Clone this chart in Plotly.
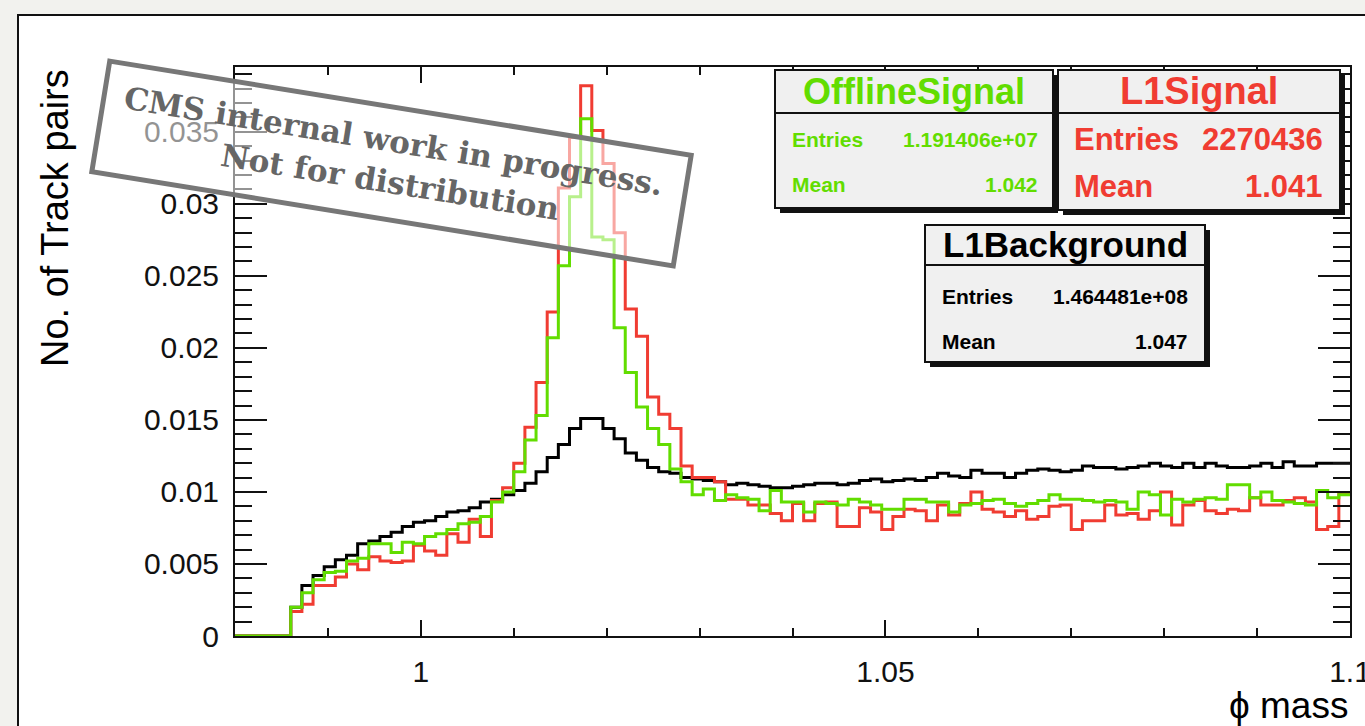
import numpy as np
import plotly.graph_objects as go

# ---- binning of the phi-mass histograms ----
X_LO, X_HI, N_BINS = 0.98, 1.1, 100
edges = np.linspace(X_LO, X_HI, N_BINS + 1)

# ---- bin contents (normalised) ----
l1_background = [
    0, 0, 0, 0, 0,
    0.0020, 0.0035, 0.0042, 0.0048, 0.0053,
    0.0056, 0.0064, 0.0066, 0.0069, 0.0072,
    0.0076, 0.0079, 0.0080, 0.0083, 0.0086,
    0.0087, 0.0089, 0.0093, 0.0095, 0.0098,
    0.0101, 0.0106, 0.0114, 0.0124, 0.0133,
    0.0144, 0.0151, 0.0151, 0.0144, 0.0137,
    0.0127, 0.0122, 0.0117, 0.0114, 0.0113,
    0.0110, 0.0109, 0.0108, 0.0107, 0.0105,
    0.0106, 0.0105, 0.0104, 0.0103, 0.0103,
    0.0104, 0.0105, 0.0106, 0.0106, 0.0105,
    0.0106, 0.0108, 0.0109, 0.0107, 0.0108,
    0.0109, 0.0108, 0.0110, 0.0113, 0.0111,
    0.0110, 0.0115, 0.0113, 0.0113, 0.0110,
    0.0113, 0.0115, 0.0116, 0.0115, 0.0114,
    0.0115, 0.0118, 0.0117, 0.0117, 0.0116,
    0.0117, 0.0118, 0.0120, 0.0118, 0.0117,
    0.0120, 0.0117, 0.0120, 0.0118, 0.0117,
    0.0117, 0.0118, 0.0120, 0.0117, 0.0121,
    0.0118, 0.0118, 0.0120, 0.0120, 0.0120,
]

offline_signal = [
    0, 0, 0, 0, 0,
    0.0020, 0.0030, 0.0039, 0.0044, 0.0045,
    0.0052, 0.0054, 0.0064, 0.0064, 0.0058,
    0.0065, 0.0064, 0.0069, 0.0071, 0.0074,
    0.0078, 0.0079, 0.0083, 0.0093, 0.0100,
    0.0114, 0.0136, 0.0153, 0.0207, 0.0257,
    0.0305, 0.0359, 0.0277, 0.0275, 0.0214,
    0.0183, 0.0159, 0.0144, 0.0133, 0.0116,
    0.0107, 0.0098, 0.0102, 0.0094, 0.0098,
    0.0096, 0.0095, 0.0087, 0.0101, 0.0093,
    0.0093, 0.0086, 0.0093, 0.0092, 0.0091,
    0.0095, 0.0093, 0.0091, 0.0088, 0.0088,
    0.0095, 0.0095, 0.0093, 0.0093, 0.0086,
    0.0091, 0.0092, 0.0094, 0.0095, 0.0092,
    0.0090, 0.0092, 0.0094, 0.0098, 0.0095,
    0.0095, 0.0094, 0.0093, 0.0094, 0.0093,
    0.0088, 0.0100, 0.0098, 0.0084, 0.0095,
    0.0093, 0.0095, 0.0096, 0.0095, 0.0105,
    0.0105, 0.0096, 0.0100, 0.0094, 0.0093,
    0.0092, 0.0091, 0.0101, 0.0096, 0.0098,
]

l1_signal = [
    0, 0, 0, 0, 0,
    0.0017, 0.0022, 0.0035, 0.0035, 0.0041,
    0.0050, 0.0046, 0.0055, 0.0052, 0.0051,
    0.0052, 0.0063, 0.0059, 0.0056, 0.0071,
    0.0065, 0.0081, 0.0069, 0.0094, 0.0103,
    0.0120, 0.0145, 0.0176, 0.0225, 0.0311,
    0.0346, 0.0382, 0.0351, 0.0328, 0.0280,
    0.0227, 0.0208, 0.0166, 0.0154, 0.0144,
    0.0118, 0.0110, 0.0110, 0.0107, 0.0095,
    0.0095, 0.0091, 0.0091, 0.0085, 0.0080,
    0.0092, 0.0080, 0.0092, 0.0093, 0.0076,
    0.0076, 0.0089, 0.0086, 0.0074, 0.0083,
    0.0088, 0.0087, 0.0080, 0.0091, 0.0084,
    0.0092, 0.0100, 0.0088, 0.0086, 0.0083,
    0.0087, 0.0081, 0.0083, 0.0090, 0.0091,
    0.0074, 0.0080, 0.0080, 0.0091, 0.0084,
    0.0085, 0.0081, 0.0087, 0.0100, 0.0077,
    0.0091, 0.0094, 0.0087, 0.0085, 0.0088,
    0.0087, 0.0096, 0.0091, 0.0091, 0.0094,
    0.0096, 0.0093, 0.0074, 0.0076, 0.0099,
]

# ---- statistics boxes ----
stats = [
    dict(name="OfflineSignal", entries="1.191406e+07", mean="1.042", color="#62dd00"),
    dict(name="L1Signal", entries="2270436", mean="1.041", color="#f03c32"),
    dict(name="L1Background", entries="1.464481e+08", mean="1.047", color="#000000"),
]

y_ticks = [0, 0.005, 0.01, 0.015, 0.02, 0.025, 0.03, 0.035]
y_tick_text = ["0", "0.005", "0.01", "0.015", "0.02", "0.025", "0.03", "0.035"]
x_ticks = [1.0, 1.05, 1.1]
x_tick_text = ["1", "1.05", "1.1"]

# ---- page geometry (pixels) ----
W, H = 1365, 726
L, R, T, B = 235, 1350, 67, 636
Y_MAX = 0.0395
FONT = "Liberation Sans, Arial, Helvetica, sans-serif"


def px(x):
    return (x - L) / (R - L)


def py(y):
    return (B - y) / (B - T)


def step(vals):
    return edges, list(vals) + [vals[-1]]


fig = go.Figure()
for vals, s in ((l1_background, stats[2]), (l1_signal, stats[1]), (offline_signal, stats[0])):
    xs, ys = step(vals)
    fig.add_trace(go.Scatter(x=xs, y=ys, mode="lines", line_shape="hv",
                             line=dict(color=s["color"], width=3),
                             name=s["name"], showlegend=False, hoverinfo="skip"))

shapes = []
annotations = []

# canvas (white pad with dark border, grey page around it)
shapes.append(dict(type="rect", xref="paper", yref="paper", layer="below",
                   x0=px(18), y0=py(15), x1=px(W + 20), y1=py(H + 20),
                   fillcolor="white", line=dict(color="#111111", width=2)))

# stat boxes: (left, top, right, bottom, separator y, title size, row size, row ys, text xs)
box_geom = [
    (775, 70, 1053, 208, 113, 36, 21, (140, 185), (790, 1040)),
    (1058, 70, 1340, 210, 113, 38, 31, (140, 186), (1072, 1325)),
    (925, 225, 1205, 362, 265, 35, 21, (296, 341), (940, 1190)),
]
for s, (x0, y0, x1, y1, ysep, tsize, rsize, rows, cols) in zip(stats, box_geom):
    shapes.append(dict(type="rect", xref="paper", yref="paper", layer="above",
                       x0=px(x0 + 5), y0=py(y0 + 5), x1=px(x1 + 5), y1=py(y1 + 5),
                       fillcolor="#111111", line=dict(width=0)))
    shapes.append(dict(type="rect", xref="paper", yref="paper", layer="above",
                       x0=px(x0), y0=py(y0), x1=px(x1), y1=py(y1),
                       fillcolor="#f0f0f0", line=dict(color="#111111", width=2)))
    shapes.append(dict(type="line", xref="paper", yref="paper", layer="above",
                       x0=px(x0), y0=py(ysep), x1=px(x1), y1=py(ysep),
                       line=dict(color="#111111", width=2)))
    annotations.append(dict(xref="paper", yref="paper", x=px((x0 + x1) / 2), y=py((y0 + ysep) / 2),
                            text="<b>%s</b>" % s["name"], showarrow=False,
                            xanchor="center", yanchor="middle",
                            font=dict(family=FONT, size=tsize, color=s["color"])))
    for label, value, yy in (("Entries", s["entries"], rows[0]), ("Mean", s["mean"], rows[1])):
        annotations.append(dict(xref="paper", yref="paper", x=px(cols[0]), y=py(yy),
                                text="<b>%s</b>" % label, showarrow=False,
                                xanchor="left", yanchor="middle",
                                font=dict(family=FONT, size=rsize, color=s["color"])))
        annotations.append(dict(xref="paper", yref="paper", x=px(cols[1]), y=py(yy),
                                text="<b>%s</b>" % value, showarrow=False,
                                xanchor="right", yanchor="middle",
                                font=dict(family=FONT, size=rsize, color=s["color"])))

# "internal" stamp: rotated translucent box with slab-serif text
ang = np.deg2rad(9.2)
cx, cy, hw, hh = 391.5, 163.5, 294.5, 56
corners = []
for dx, dy in ((-hw, -hh), (hw, -hh), (hw, hh), (-hw, hh)):
    corners.append((cx + dx * np.cos(ang) - dy * np.sin(ang),
                    cy + dx * np.sin(ang) + dy * np.cos(ang)))
path = "M " + " L ".join("%.5f %.5f" % (px(a), py(b)) for a, b in corners) + " Z"
shapes.append(dict(type="path", xref="paper", yref="paper", layer="above", path=path,
                   fillcolor="rgba(255,255,255,0.55)", line=dict(color="#777777", width=5)))
for txt, (tx, ty) in (("CMS internal work in progress.", (393, 141)),
                      ("Not for distribution", (390, 182))):
    annotations.append(dict(xref="paper", yref="paper", x=px(tx), y=py(ty), text="<b>%s</b>" % txt,
                            showarrow=False, textangle=9.2, xanchor="center", yanchor="middle",
                            font=dict(family="DejaVu Serif, serif", size=31, color="#666666")))

# axis titles (ROOT style: aligned to the axis end)
annotations.append(dict(xref="paper", yref="paper", x=px(55), y=1.0, text="No. of Track pairs",
                        showarrow=False, textangle=-90, xanchor="center", yanchor="top",
                        font=dict(family=FONT, size=38, color="black")))
annotations.append(dict(xref="paper", yref="paper", x=1.0, y=py(705), text="\u03d5 mass",
                        showarrow=False, xanchor="right", yanchor="middle",
                        font=dict(family=FONT, size=37, color="black")))

axis_common = dict(showline=True, linecolor="#111111", linewidth=2, mirror="ticks",
                   ticks="inside", tickcolor="#111111", tickwidth=2, showgrid=False,
                   zeroline=False, automargin=False, ticklabeloverflow="allow",
                   tickfont=dict(family=FONT, size=30, color="#111111"))

fig.update_layout(
    width=W, height=H, autosize=False,
    margin=dict(l=L, r=W - R, t=T, b=H - B, pad=0),
    paper_bgcolor="#f2f2ee", plot_bgcolor="white",
    shapes=shapes, annotations=annotations, showlegend=False,
    xaxis=dict(range=[X_LO, X_HI], tickmode="array", tickvals=x_ticks, ticktext=x_tick_text,
               ticklen=16, ticklabelstandoff=8,
               minor=dict(ticks="inside", ticklen=8, tickmode="linear", tick0=0, dtick=0.01,
                          tickcolor="#111111", tickwidth=2, showgrid=False),
               **axis_common),
    yaxis=dict(range=[0, Y_MAX], tickmode="array", tickvals=y_ticks, ticktext=y_tick_text,
               ticklen=32, ticklabelstandoff=8,
               minor=dict(ticks="inside", ticklen=17, tickmode="linear", tick0=0, dtick=0.001,
                          tickcolor="#111111", tickwidth=2, showgrid=False),
               **axis_common),
)

fig.write_html("out.html")
